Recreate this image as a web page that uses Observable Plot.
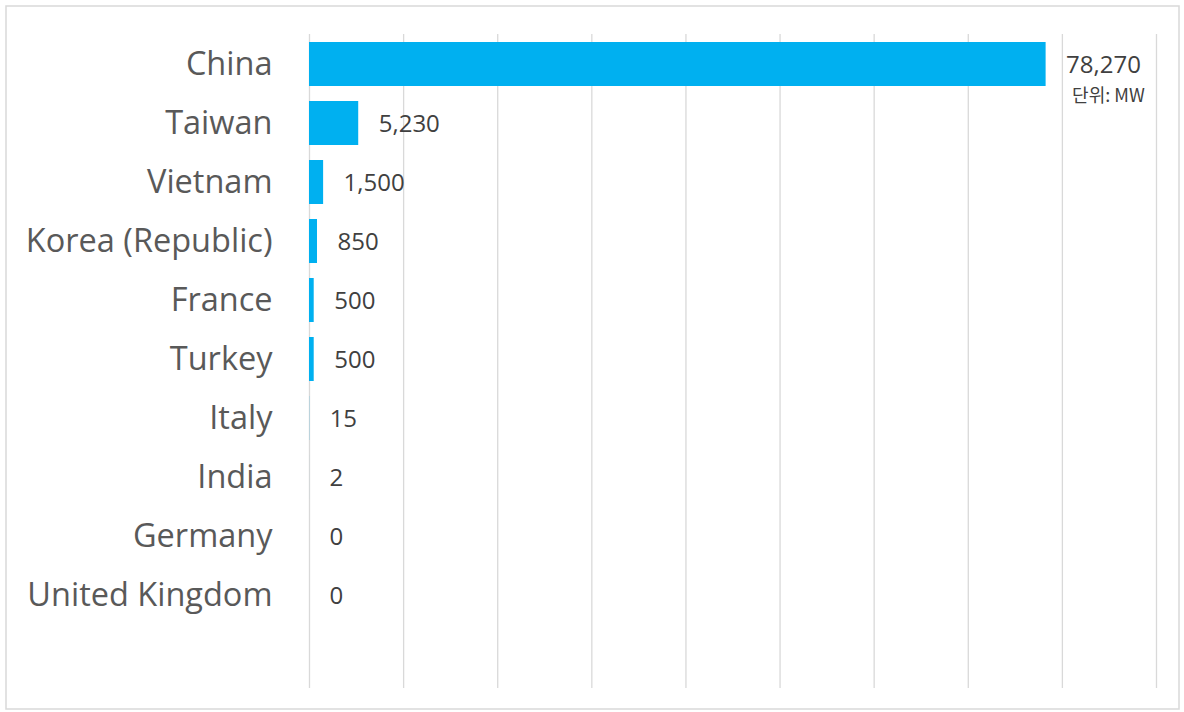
<!DOCTYPE html>
<html>
<head>
<meta charset="utf-8">
<script src="https://cdn.jsdelivr.net/npm/d3@7"></script>
<script src="https://cdn.jsdelivr.net/npm/@observablehq/plot@0.6"></script>
<style>
  html, body { margin: 0; padding: 0; background: #fff; }
  #chart { position: relative; width: 1184px; height: 712px; }
</style>
</head>
<body>
<div id="chart"></div>
<script>
const countries = ["China", "Taiwan", "Vietnam", "Korea (Republic)", "France", "Turkey", "Italy", "India", "Germany", "United Kingdom"];
const capacityMW = [78270, 5230, 1500, 850, 500, 500, 15, 2, 0, 0];
const xTicks = [0, 10000, 20000, 30000, 40000, 50000, 60000, 70000, 80000, 90000];
const unitLabel = "단위: MW";

const data = countries.map((c, i) => ({country: c, value: capacityMW[i]}));
const fmt = d3.format(",");

const chart = Plot.plot({
  width: 1184,
  height: 712,
  marginLeft: 309,
  marginRight: 28,
  marginTop: 34,
  marginBottom: 24,
  style: {fontFamily: "'Open Sans', 'Noto Sans', sans-serif", fontSize: "32.5px", color: "#595959", background: "#fff"},
  x: {domain: [0, 90000], axis: null},
  y: {domain: countries, paddingInner: 0.25, paddingOuter: 0.125, insetBottom: 62, tickSize: 0, tickPadding: 37, label: null},
  marks: [
    Plot.gridX(xTicks, {stroke: "#d9d9d9", strokeOpacity: 1, strokeWidth: 1.3}),
    Plot.barX(data, {x: "value", y: "country", fill: "#00B0F0"}),
    Plot.text(data, {x: "value", y: "country", text: d => fmt(d.value), textAnchor: "start", dx: 20, dy: 1, fill: "#404040", fontSize: 24}),
    Plot.text([{country: countries[0], value: capacityMW[0], label: unitLabel}], {x: "value", y: "country", text: "label", textAnchor: "start", dx: 26, dy: 32, fill: "#404040", fontSize: 18, fontFamily: "'Noto Sans CJK KR', 'Open Sans', sans-serif"})
  ]
});

d3.select(chart).append("rect")
  .attr("x", 6).attr("y", 6).attr("width", 1173).attr("height", 703)
  .attr("fill", "none").attr("stroke", "#d9d9d9").attr("stroke-width", 1.5);

document.getElementById("chart").appendChild(chart);
</script>
</body>
</html>
